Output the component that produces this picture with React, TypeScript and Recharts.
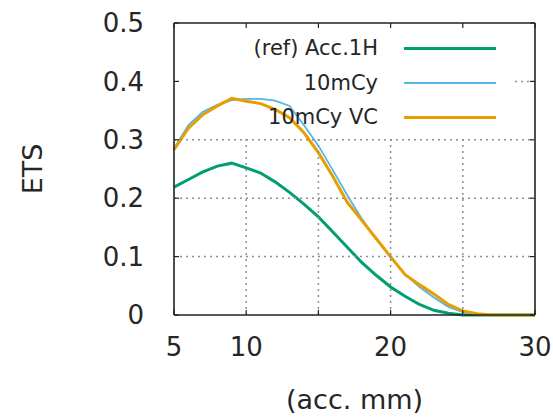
import {
  Legend,
  Line,
  LineChart,
  ReferenceLine,
  XAxis,
  YAxis,
} from 'recharts'

// (acc. mm) sampling
const accMm = [
  5, 6, 7, 8, 9, 10, 11, 12, 13, 14, 15, 16, 17, 18, 19, 20, 21, 22, 23, 24, 25,
  26, 27, 28, 29, 30,
]

const refAcc1H = [
  0.219, 0.232, 0.245, 0.255, 0.26, 0.252, 0.243, 0.228, 0.21, 0.19, 0.168,
  0.142, 0.116, 0.09, 0.068, 0.048, 0.032, 0.018, 0.008, 0.003, 0, 0, 0, 0, 0, 0,
]

const tenMCy = [
  0.285, 0.325, 0.348, 0.36, 0.368, 0.37, 0.37, 0.367, 0.358, 0.325, 0.29,
  0.248, 0.205, 0.165, 0.13, 0.098, 0.07, 0.048, 0.03, 0.014, 0.005, 0.001, 0,
  0, 0, 0,
]

const tenMCyVC = [
  0.283, 0.32, 0.343, 0.358, 0.371, 0.366, 0.362, 0.352, 0.338, 0.312, 0.278,
  0.237, 0.193, 0.162, 0.131, 0.1, 0.069, 0.052, 0.036, 0.018, 0.007, 0.002, 0,
  0, 0, 0,
]

const xTicks = [5, 10, 15, 20, 25, 30]
const xLabelled = [5, 10, 20, 30]
const yTicks = [0, 0.1, 0.2, 0.3, 0.4, 0.5]

const seriesInfo = [
  { key: 'ref', name: '(ref) Acc.1H', color: '#009e73', width: 3 },
  { key: 'cy', name: '10mCy', color: '#56b4e9', width: 1.8 },
  { key: 'vc', name: '10mCy VC', color: '#e69f00', width: 3 },
]

const data = accMm.map((x, i) => ({
  x,
  ref: refAcc1H[i],
  cy: tenMCy[i],
  vc: tenMCyVC[i],
}))

const W = 553
const H = 419
const PLOT_LEFT = 174
const PLOT_TOP = 23
const PLOT_RIGHT = 535
const PLOT_BOTTOM = 315
// opaque key box of the original hides the grid behind it
const KEY_RIGHT = 515
const KEY_BOTTOM = 137
const FONT = '"DejaVu Sans", sans-serif'
const TEXT = '#262626'
const TICK_LEN = 5
const GRID = '#8e8e8e'
const BORDER = '#222'

// ticks point inward on all four sides; the dotted grid hangs off the same ticks
const XTick = (props: any) => {
  const { x, y, payload } = props
  const v = payload.value
  const inner = v !== xTicks[0] && v !== xTicks[xTicks.length - 1]
  return (
    <g>
      {inner && (
        <line x1={x} y1={y} x2={x} y2={KEY_BOTTOM} stroke={GRID} strokeWidth={1.5} strokeDasharray="2 4" />
      )}
      <line x1={x} y1={y} x2={x} y2={y - TICK_LEN} stroke={BORDER} strokeWidth={1.2} />
      <line x1={x} y1={PLOT_TOP} x2={x} y2={PLOT_TOP + TICK_LEN} stroke={BORDER} strokeWidth={1.2} />
      {xLabelled.includes(v) && (
        <text x={x} y={y + 32} dy="0.35em" textAnchor="middle" fontSize={26} fontFamily={FONT} fill={TEXT}>
          {v}
        </text>
      )}
    </g>
  )
}

const YTick = (props: any) => {
  const { x, y, payload } = props
  const v = payload.value
  const inner = v !== yTicks[0] && v !== yTicks[yTicks.length - 1]
  const gridStart = y < KEY_BOTTOM ? KEY_RIGHT : x
  return (
    <g>
      {inner && (
        <line x1={gridStart} y1={y} x2={PLOT_RIGHT} y2={y} stroke={GRID} strokeWidth={1.5} strokeDasharray="2 4" />
      )}
      <line x1={x} y1={y} x2={x + TICK_LEN} y2={y} stroke={BORDER} strokeWidth={1.2} />
      <line x1={PLOT_RIGHT - TICK_LEN} y1={y} x2={PLOT_RIGHT} y2={y} stroke={BORDER} strokeWidth={1.2} />
      <text x={x - 30} y={y} dy="0.35em" textAnchor="end" fontSize={26} fontFamily={FONT} fill={TEXT}>
        {v === 0 ? '0' : v.toFixed(1)}
      </text>
    </g>
  )
}

const KeyBox = () => (
  <div style={{ fontFamily: FONT, fontSize: 21, color: TEXT }}>
    {seriesInfo.map((s) => (
      <div key={s.key} style={{ display: 'flex', alignItems: 'center', height: 34.5 }}>
        <span style={{ width: 178, textAlign: 'right', whiteSpace: 'nowrap' }}>{s.name}</span>
        <span
          style={{
            display: 'inline-block',
            marginLeft: 26,
            width: 92,
            height: s.width === 3 ? 3 : 2,
            background: s.color,
          }}
        />
      </div>
    ))}
  </div>
)

export default function App() {
  return (
    <div style={{ position: 'absolute', left: 0, top: 0 }}>
      <LineChart
        width={W}
        height={H}
        data={data}
        margin={{ top: PLOT_TOP, right: W - PLOT_RIGHT, bottom: 0, left: 0 }}
      >
        <XAxis
          dataKey="x"
          type="number"
          domain={[5, 30]}
          ticks={xTicks}
          height={H - PLOT_BOTTOM}
          axisLine={false}
          tickLine={false}
          tickSize={0}
          tickMargin={0}
          tick={XTick}
          interval={0}
          label={{
            value: '(acc. mm)',
            position: 'insideBottom',
            offset: 10,
            fontSize: 27,
            fontFamily: FONT,
            fill: TEXT,
          }}
        />
        <YAxis
          type="number"
          domain={[0, 0.5]}
          ticks={yTicks}
          width={PLOT_LEFT}
          axisLine={false}
          tickLine={false}
          tickSize={0}
          tickMargin={0}
          tick={YTick}
          interval={0}
          label={(p: any) => {
            const vb = p.viewBox
            const cx = vb.x + 33
            const cy = vb.y + vb.height / 2
            return (
              <text
                x={cx}
                y={cy}
                dy="0.35em"
                textAnchor="middle"
                transform={`rotate(-90, ${cx}, ${cy})`}
                fontSize={27}
                fontFamily={FONT}
                fill={TEXT}
              >
                ETS
              </text>
            )
          }}
        />
        <Legend
          layout="vertical"
          align="center"
          verticalAlign="middle"
          wrapperStyle={{ position: 'absolute', left: 200, top: 31, width: 320 }}
          content={() => <KeyBox />}
        />
        {seriesInfo.map((s) => (
          <Line
            key={s.key}
            type="linear"
            dataKey={s.key}
            name={s.name}
            stroke={s.color}
            strokeWidth={s.width}
            dot={false}
            activeDot={false}
            isAnimationActive={false}
          />
        ))}
        {/* plot border */}
        <ReferenceLine x={5} stroke={BORDER} strokeWidth={1.6} />
        <ReferenceLine x={30} stroke={BORDER} strokeWidth={1.6} />
        <ReferenceLine y={0} stroke={BORDER} strokeWidth={1.6} />
        <ReferenceLine y={0.5} stroke={BORDER} strokeWidth={1.6} />
      </LineChart>
    </div>
  )
}
